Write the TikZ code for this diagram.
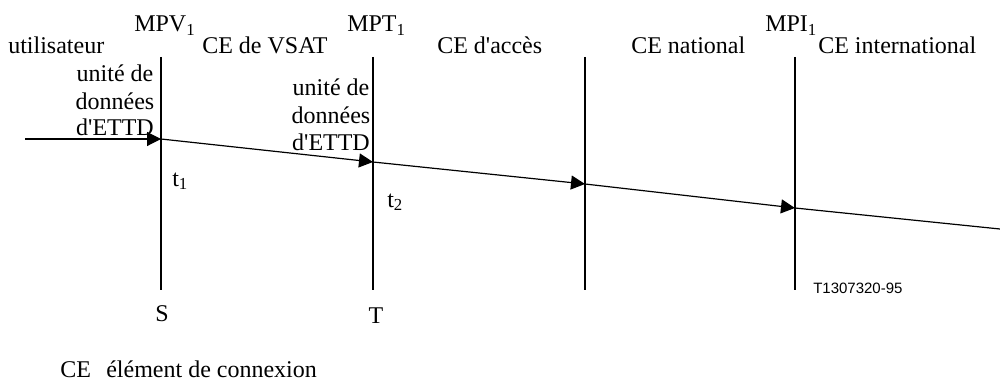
\documentclass[tikz,border=0pt]{standalone}
\usepackage{fontspec}
\setmainfont{Liberation Serif}
\newfontfamily\codefont{Liberation Sans}
\usetikzlibrary{arrows.meta}

\tikzset{
  lbl/.style={inner sep=0pt, font=\fontsize{18}{20.25}\selectfont},
  block/.style={lbl, align=center},
  refcode/.style={inner sep=0pt, font=\codefont\fontsize{11.25}{13}\selectfont},
  boundary/.style={line width=1.7pt},
  flow/.style={line width=0.9pt, -{Triangle[length=10.5pt,width=10.5pt]}},
}

\begin{document}
\begin{tikzpicture}[x=0.75pt,y=-0.75pt]
\useasboundingbox[fill=white] (0,0) rectangle (1000,385);

% points de mesure (lignes verticales)
\foreach \n/\x in {s/161,t/373,a/585,i/795}{
  \coordinate (\n top) at (\x,57);
  \coordinate (\n bot) at (\x,290);
  \draw[boundary] (\n top) -- (\n bot);
}

% trajet de l'unite de donnees
\coordinate (in) at (25,139);
\coordinate (xs) at (161,139);
\coordinate (xt) at (373,162);
\coordinate (xa) at (585,184);
\coordinate (xi) at (795,208);
\coordinate (out) at (1000,229);
\draw[flow] (in) -- (xs);
\draw[flow] (xs) -- (xt);
\draw[flow] (xt) -- (xa);
\draw[flow] (xa) -- (xi);
\draw[line width=0.9pt] (xi) -- (out);

% en-tetes
\node[lbl, anchor=base west] (mpv) at (134,32) {MPV\textsubscript{1}};
\node[lbl, anchor=base west] (mpt) at (347,32) {MPT\textsubscript{1}};
\node[lbl, anchor=base west] (mpi) at (765,32) {MPI\textsubscript{1}};
\node[lbl, anchor=base west] (user) at (8,54) {utilisateur};
\node[lbl, anchor=base west] (vsat) at (202,54) {CE de VSAT};
\node[lbl, anchor=base west] (acces) at (437,54) {CE d\textquotesingle accès};
\node[lbl, anchor=base west] (natl) at (631,54) {CE national};
\node[lbl, anchor=base west] (intl) at (818,54) {CE international};

% unites de donnees (base = derniere ligne)
\node[block, anchor=base] (dte1) at (115,136) {unité de\\données\\d\textquotesingle ETTD};
\node[block, anchor=base] (dte2) at (331,150) {unité de\\données\\d\textquotesingle ETTD};

% instants et points de reference
\node[lbl, anchor=base west] (t1) at (172,186) {t\textsubscript{1}};
\node[lbl, anchor=base west] (t2) at (387,207) {t\textsubscript{2}};
\node[lbl, anchor=base] (S) at (162,321) {S};
\node[lbl, anchor=base] (T) at (376,323) {T};
\node[refcode, anchor=base west] (ref) at (813,293) {T1307320-95};

% legende
\node[lbl, anchor=base west] (ce) at (60,377) {CE};
\node[lbl, anchor=base west] (cedef) at (106,377) {élément de connexion};
\end{tikzpicture}
\end{document}
